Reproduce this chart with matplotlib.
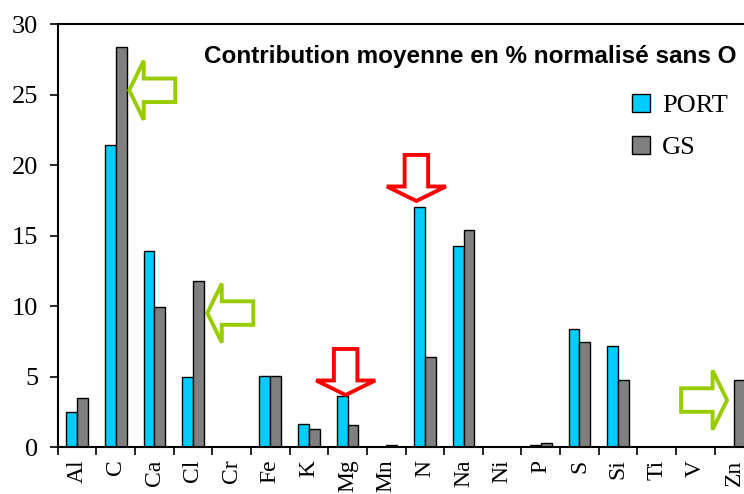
#Average element contribution (% normalised without O) for PORT and GS samples.

import matplotlib.pyplot as plt
import matplotlib.transforms as transforms
from matplotlib.patches import Polygon
import numpy as np

elements = ['Al', 'C', 'Ca', 'Cl', 'Cr', 'Fe', 'K', 'Mg', 'Mn', 'N',
            'Na', 'Ni', 'P', 'S', 'Si', 'Ti', 'V', 'Zn']
port = [2.5, 21.4, 13.9, 5.0, 0, 5.05, 1.65, 3.65, 0, 17.05,
        14.25, 0, 0.12, 8.35, 7.15, 0, 0, 0]
gs = [3.45, 28.35, 9.9, 11.75, 0, 5.05, 1.3, 1.55, 0.15, 6.35,
      15.4, 0, 0.25, 7.45, 4.75, 0, 0, 4.75]

title = "Contribution moyenne en % normalisé sans O"

# (x, y, direction, colour) of the highlight arrows, tip position in data units
arrows = [(1.35, 25.3, 'left', '#99CC00'),
          (3.37, 9.5, 'left', '#99CC00'),
          (16.82, 3.33, 'right', '#99CC00'),
          (8.78, 17.45, 'down', '#FF0000'),
          (6.95, 3.69, 'down', '#FF0000')]

fig = plt.figure(figsize=(7.44, 4.94), dpi=100)
# plot area runs past the right edge of the figure
ax = fig.add_axes([0.0776, 0.0951, 0.935, 0.8563])

x = np.arange(len(elements))
w = 0.28
ax.bar(x - w/2, port, w, color='#00CCFF', edgecolor='black', lw=1.0, label='PORT')
ax.bar(x + w/2, gs, w, color='#808080', edgecolor='black', lw=1.0, label='GS')

ax.set_xlim(-0.5, len(elements) - 0.5)
ax.set_ylim(0, 30)
ax.set_yticks(np.arange(0, 31, 5))
ax.set_xticks(x)
ax.set_xticklabels(elements, rotation=90, family='Liberation Serif', fontsize=17)
ax.set_xticks(np.arange(-0.5, len(elements)), minor=True)
ax.tick_params(axis='x', which='major', length=0, pad=9)
ax.tick_params(axis='x', which='minor', length=6, width=1.2, direction='out')
ax.tick_params(axis='y', length=6, width=1.2, direction='out', pad=8)
for lab in ax.get_yticklabels():
    lab.set_family('Liberation Serif')
    lab.set_fontsize(19)
for sp in ax.spines.values():
    sp.set_linewidth(1.5)


def block_arrow(ax, xt, yt, direction, color):
    # hollow block arrow, shape given in inches, tip anchored at a data point
    L, hl, hw, sw = 0.46, 0.145, 0.59, 0.235
    pts = np.array([[0, 0], [hl, hw/2], [hl, sw/2], [L, sw/2],
                    [L, -sw/2], [hl, -sw/2], [hl, -hw/2]])
    if direction == 'right':
        pts[:, 0] = -pts[:, 0]
    elif direction == 'down':
        pts = np.column_stack([pts[:, 1], pts[:, 0]])
    trans = fig.dpi_scale_trans + transforms.ScaledTranslation(xt, yt, ax.transData)
    ax.add_patch(Polygon(pts, closed=True, transform=trans, facecolor='white',
                         edgecolor=color, lw=2.8, joinstyle='miter', clip_on=False))


for xt, yt, d, c in arrows:
    block_arrow(ax, xt, yt, d, c)

fig.text(204/744, 1 - 57/494, title, family='Liberation Sans', fontweight='bold',
         fontsize=17.5, va='center', ha='left')

ax.legend(loc='upper left', bbox_to_anchor=(632/744, 1 - 94/494),
          bbox_transform=fig.transFigure, frameon=False,
          prop={'family': 'Liberation Serif', 'size': 19},
          handlelength=0.7, handleheight=0.7, handletextpad=0.45,
          labelspacing=0.7, borderpad=0, borderaxespad=0)

fig.savefig('out.png', dpi=100)
